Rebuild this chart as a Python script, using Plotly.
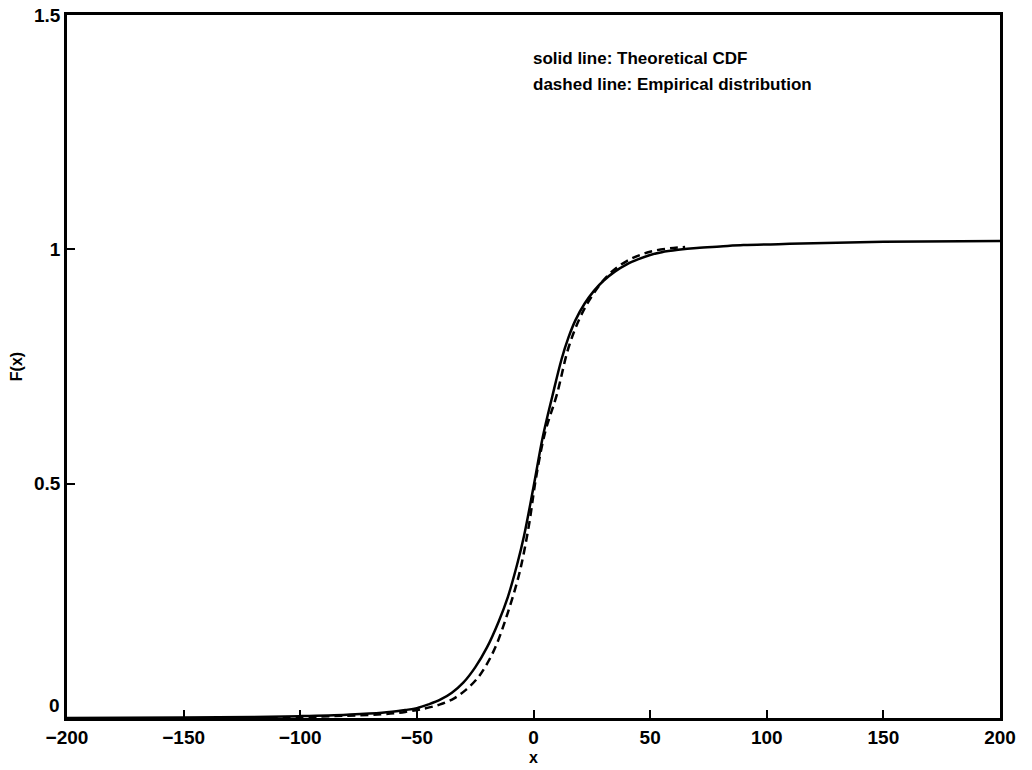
import plotly.graph_objects as go

# Theoretical CDF (solid line)
x_theory = [-200, -150, -120, -100, -80, -65, -55, -50, -45, -40, -35, -30, -25, -20, -15,
            -11, -7, -4, 0, 4, 8, 12, 15, 18, 22, 26, 30, 35, 40, 45, 50, 55, 62,
            70, 80, 90, 105, 120, 150, 200]
F_theory = [0.0, 0.001, 0.002, 0.004, 0.007, 0.011, 0.017, 0.021, 0.029, 0.039, 0.054,
            0.076, 0.108, 0.150, 0.205, 0.258, 0.328, 0.39, 0.493, 0.60, 0.685, 0.765,
            0.812, 0.849, 0.885, 0.912, 0.933, 0.953, 0.968, 0.979, 0.988, 0.994,
            0.999, 1.003, 1.006, 1.009, 1.011, 1.013, 1.016, 1.018]

# Empirical distribution (dashed line)
x_emp = [-130, -100, -80, -65, -55, -47, -40, -34, -29, -24, -20, -16, -11, -6, -2,
         1, 5, 10, 15, 20, 25, 32, 40, 50, 60, 65]
F_emp = [0.0, 0.002, 0.005, 0.008, 0.013, 0.02, 0.029, 0.042, 0.06, 0.085, 0.115,
         0.155, 0.225, 0.31, 0.41, 0.51, 0.61, 0.69, 0.79, 0.855, 0.90, 0.945,
         0.975, 0.995, 1.003, 1.005]

x_ticks = [-200, -150, -100, -50, 0, 50, 100, 150, 200]
y_ticks = [0, 0.5, 1, 1.5]
y_tick_text = ["", "0.5", "1", "1.5"]
y_zero_label = "0"

notes = ["solid line: Theoretical CDF", "dashed line: Empirical distribution"]

font_family = "Liberation Sans, Arial, sans-serif"
tick_font = dict(family=font_family, size=19, color="black", weight="bold")

fig = go.Figure()
fig.add_trace(go.Scatter(x=x_theory, y=F_theory, mode="lines",
                         line=dict(color="black", width=2.5, shape="spline", smoothing=1.0),
                         showlegend=False))
fig.add_trace(go.Scatter(x=x_emp, y=F_emp, mode="lines",
                         line=dict(color="black", width=2.5, dash="8px,5px",
                                   shape="spline", smoothing=1.0),
                         showlegend=False))

for i, txt in enumerate(notes):
    fig.add_annotation(x=-1, y=[1.408, 1.352][i], xref="x", yref="y", text=txt,
                       showarrow=False, xanchor="left", yanchor="middle",
                       font=dict(family=font_family, size=17, color="black", weight="bold"))

# "0" label of the y axis sits a little above the axis corner, as in the original
fig.add_annotation(x=0, y=0, xref="paper", yref="y", text=y_zero_label, showarrow=False,
                   xanchor="right", yanchor="middle", xshift=-5, yshift=13,
                   font=tick_font)

axis_common = dict(showgrid=False, zeroline=False, showline=True, linecolor="black",
                   linewidth=2.5, mirror=True, ticks="inside", ticklen=8,
                   tickwidth=2, tickcolor="black", automargin=False,
                   tickfont=tick_font)

fig.update_layout(
    width=1032, height=770,
    margin=dict(l=67, r=32, t=15, b=52, pad=0),
    paper_bgcolor="white", plot_bgcolor="white",
    xaxis=dict(range=[-200, 200], tickvals=x_ticks,
               title=dict(text="x", standoff=6,
                          font=dict(family=font_family, size=16, color="black", weight="bold")),
               **axis_common),
    yaxis=dict(range=[0, 1.5], tickvals=y_ticks, ticktext=y_tick_text,
               title=dict(text="F(x)", standoff=8,
                          font=dict(family=font_family, size=16, color="black", weight="bold")),
               **axis_common),
)

fig.write_html("out.html")
